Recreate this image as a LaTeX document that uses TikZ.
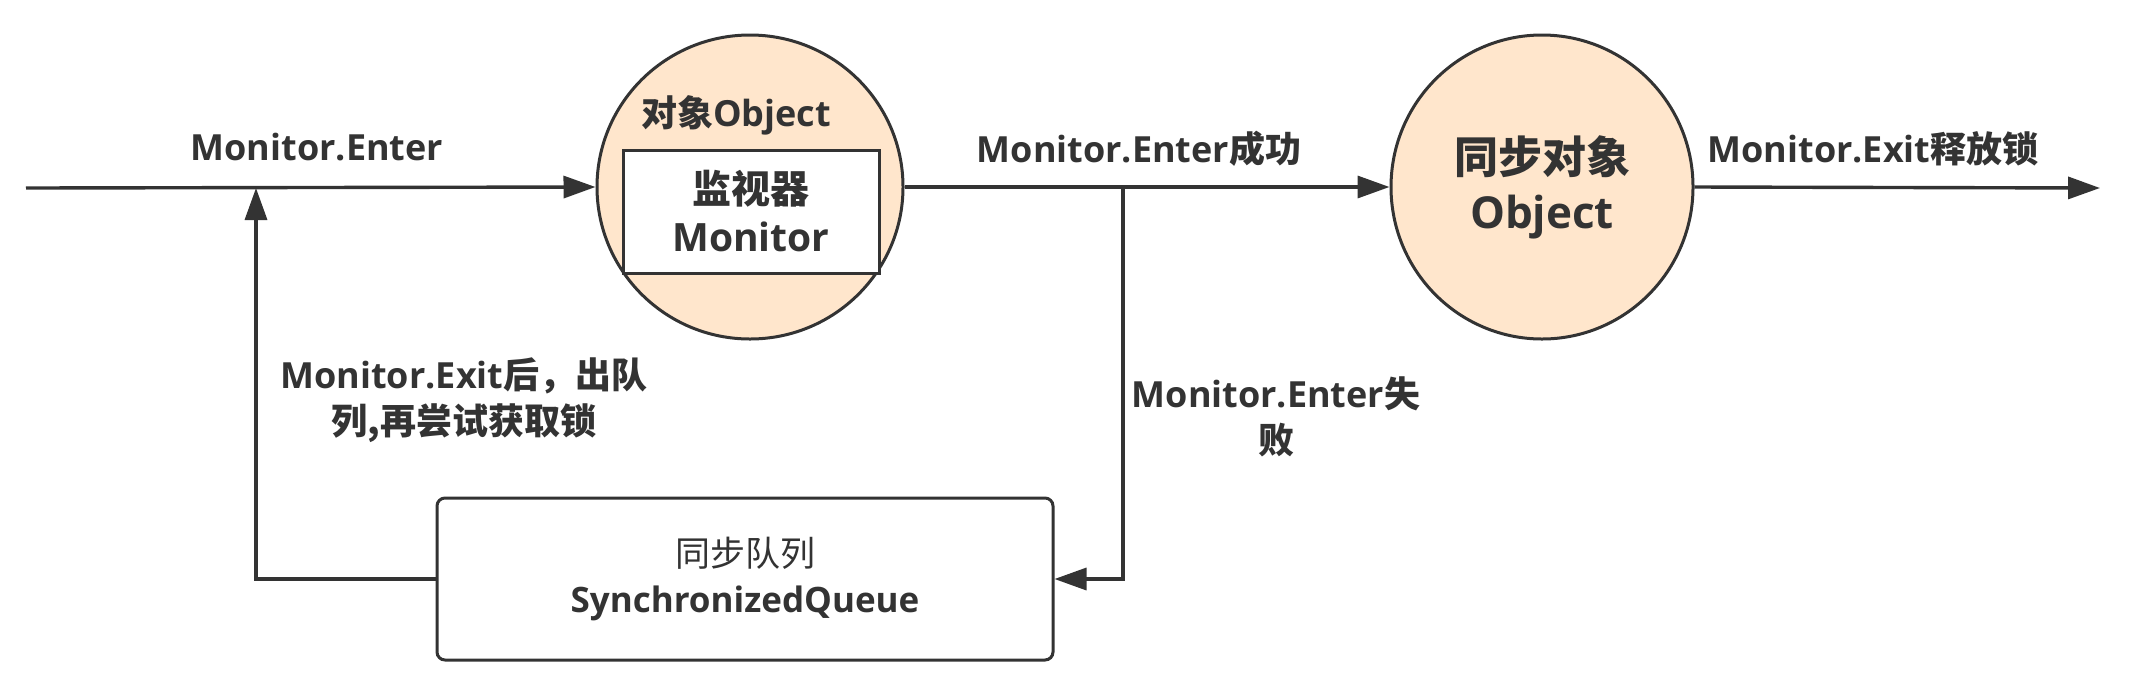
\documentclass[tikz,border=0pt]{standalone}
\usepackage{fontspec}
\setmainfont{Open Sans}
\newfontfamily\cjk{Noto Sans CJK SC}
\newcommand\zh[1]{{\cjk #1}}
\usetikzlibrary{shapes.geometric,arrows.meta}
\definecolor{ln}{HTML}{333333}
\definecolor{peach}{HTML}{FFE6CC}
\tikzset{
  arr/.style={draw=ln,line width=1.7pt,-{Triangle[length=16pt,width=11pt]}},
  obj/.style={ellipse,draw=ln,line width=1.5pt,fill=peach,inner sep=0pt},
  lbl/.style={text=ln,font=\fontsize{18}{23}\selectfont\bfseries,align=center,inner sep=0pt},
  boxstyle/.style={rectangle,draw=ln,line width=1.5pt,align=center,text=ln,inner sep=0pt}
}
\begin{document}
\begin{tikzpicture}[x=0.5pt,y=-0.5pt]
\useasboundingbox (0,0) rectangle (2139,687);
\fill[white] (0,0) rectangle (2139,687);
% object with monitor
\node[obj,minimum width=153pt,minimum height=152pt] (obj1) at (750,187) {};
\node[boxstyle,fill=white,minimum width=128pt,minimum height=61.5pt,
      font=\fontsize{19.5}{24}\selectfont\bfseries] (mon) at (751,211.5) {\zh{监视器}\\Monitor};
\node[lbl] (objlbl) at (736,115) {\zh{对象}Object};
% synchronized object
\node[obj,minimum width=151pt,minimum height=152pt,text=ln,align=center,
      font=\fontsize{22}{27.5}\selectfont\bfseries] (obj2) at (1542,187) {\zh{同步对象}\\Object};
% queue
\node[boxstyle,rounded corners=4pt,minimum width=308pt,minimum height=81pt,
      font=\fontsize{17.5}{23}\selectfont\bfseries] (queue) at (745,579) {{\cjk\mdseries 同步队列}\\SynchronizedQueue};
% coordinates
\coordinate (start) at (26,188);
\coordinate (j1) at (256,188);
\coordinate (j2) at (1123,188);
\coordinate (end) at (2100,188);
% connectors
\draw[arr] (start) -- (obj1.west);
\draw[arr] (obj1.east) -- (obj2.west);
\draw[arr] (obj2.east) -- (end);
\draw[arr] (queue.west) -| (j1);
\draw[arr] (j2) |- (queue.east);
% labels
\node[lbl] (l1) at (317,147) {Monitor.Enter};
\node[lbl] (l2) at (1139,149) {Monitor.Enter\zh{成功}};
\node[lbl] (l3) at (1873,149) {Monitor.Exit\zh{释放锁}};
\node[lbl] (l4) at (464,400) {Monitor.Exit\zh{后，出队}\\\zh{列,再尝试获取锁}};
\node[lbl] (l5) at (1276,417) {Monitor.Enter\zh{失}\\\zh{败}};
\end{tikzpicture}
\end{document}
